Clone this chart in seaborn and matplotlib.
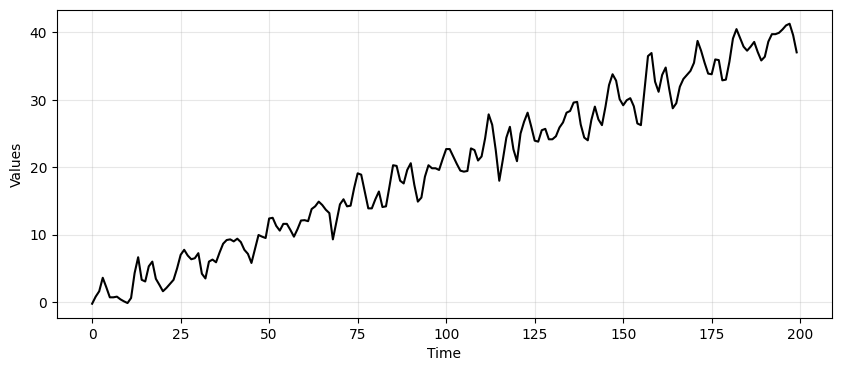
import numpy as np
import pandas as pd
import matplotlib
matplotlib.use("Agg")
import matplotlib.pyplot as plt
import seaborn as sns

# valeurs (t = 0..199)
values = [
    -0.25, 0.8, 1.6, 3.6, 2.2, 0.7, 0.7, 0.8, 0.4, 0.1,
    -0.15, 0.6, 4.3, 6.65, 3.3, 3.05, 5.3, 6.0, 3.45, 2.55,
    1.6, 2.1, 2.7, 3.3, 5.0, 7.0, 7.75, 6.9, 6.35, 6.5,
    7.25, 4.2, 3.5, 6.0, 6.3, 5.9, 7.35, 8.65, 9.2, 9.3,
    9.0, 9.4, 8.9, 7.75, 7.15, 5.8, 7.85, 9.95, 9.7, 9.5,
    12.4, 12.5, 11.3, 10.6, 11.6, 11.6, 10.7, 9.7, 10.8, 12.1,
    12.15, 12.0, 13.8, 14.2, 14.9, 14.4, 13.7, 13.2, 9.3, 11.9,
    14.5, 15.25, 14.2, 14.3, 16.9, 19.1, 18.9, 16.4, 13.9, 13.9,
    15.25, 16.4, 14.1, 14.2, 17.2, 20.3, 20.2, 18.0, 17.6, 19.6,
    20.6, 17.4, 14.9, 15.5, 18.6, 20.3, 19.85, 19.85, 19.6, 21.2,
    22.7, 22.7, 21.6, 20.5, 19.5, 19.35, 19.45, 22.8, 22.55, 21.0,
    21.6, 24.3, 27.85, 26.3, 22.55, 18.0, 21.1, 24.4, 26.0, 22.65,
    20.9, 25.0, 26.75, 28.1, 26.1, 23.95, 23.8, 25.5, 25.7, 24.15,
    24.15, 24.6, 25.9, 26.65, 28.1, 28.35, 29.6, 29.7, 26.35, 24.4,
    24.0, 27.0, 29.0, 27.1, 26.25, 29.0, 32.2, 33.8, 32.85, 30.1,
    29.2, 29.95, 30.25, 29.05, 26.5, 26.25, 31.45, 36.5, 36.95, 32.7,
    31.2, 33.7, 34.8, 31.6, 28.75, 29.5, 31.95, 33.1, 33.7, 34.3,
    35.5, 38.75, 37.3, 35.5, 33.9, 33.8, 36.0, 35.9, 32.9, 33.0,
    35.65, 39.1, 40.5, 39.2, 37.9, 37.3, 37.9, 38.6, 37.1, 35.85,
    36.4, 38.65, 39.75, 39.75, 39.95, 40.45, 41.05, 41.3, 39.6, 37.05,
]
time = np.arange(len(values))

df = pd.DataFrame({"Time": time, "Values": values})

fig, ax = plt.subplots(figsize=(10, 4))
sns.lineplot(data=df, x="Time", y="Values", color="black", linewidth=1.5, ax=ax)
ax.grid(True, alpha=0.3)

plt.savefig("out.png", dpi=100, bbox_inches="tight")
